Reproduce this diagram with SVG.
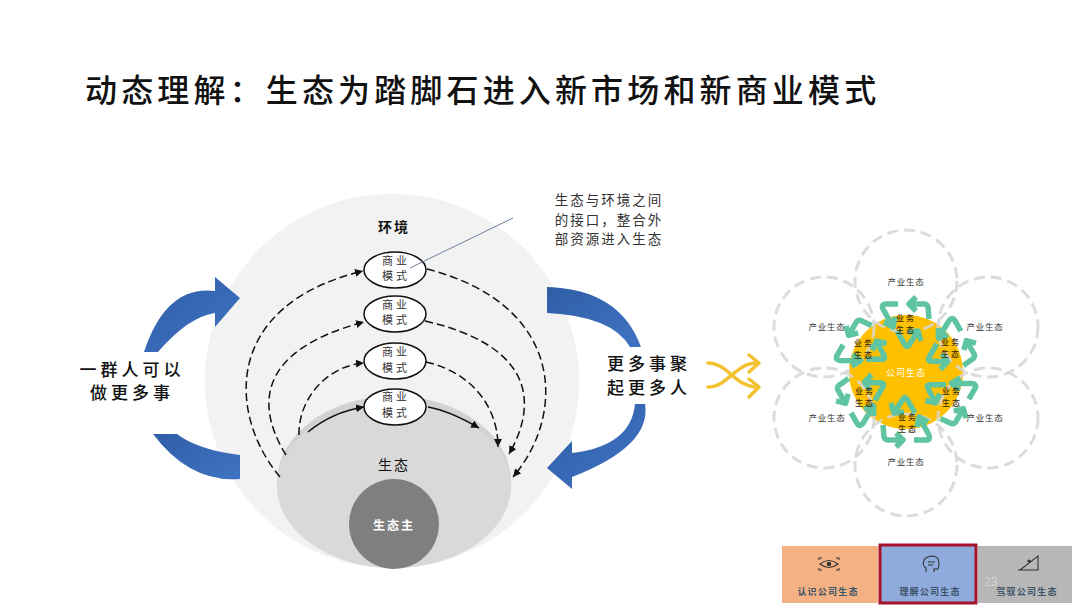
<svg xmlns="http://www.w3.org/2000/svg" width="1080" height="608" viewBox="0 0 1080 608">
<style>
text{font-family:"Noto Sans CJK SC","Liberation Sans",sans-serif;text-anchor:middle;fill:#111}
.title{font-size:32px;font-weight:500;letter-spacing:4.15px;text-anchor:start}
.lab{font-size:17px;font-weight:500;letter-spacing:4px}
.note{font-size:13.5px;letter-spacing:2px;fill:#333}
.ov{fill:#fff;stroke:#111;stroke-width:1.5}
.ovt{font-size:11px;letter-spacing:3px;fill:#333}
.c{fill:none;stroke:#111;stroke-width:1.5;stroke-dasharray:8 4;marker-end:url(#ah)}
.s{stroke-dasharray:none}
.pet{fill:none;stroke:#d6d6d6;stroke-width:3;stroke-dasharray:11 6;opacity:.85}
.ind{font-size:8.5px;letter-spacing:.8px;fill:#333}
.biz{font-size:8px;font-weight:500;letter-spacing:2px;fill:#3a2c08}
.bt{font-size:9px;font-weight:700;letter-spacing:1.2px;fill:#3d5468}
.ic{fill:none;stroke:#333;stroke-width:1.1}
.ye{fill:none;stroke:#f2c230;stroke-width:3.5;stroke-linecap:round;stroke-linejoin:round}
.gr{fill:none;stroke:#5fc4a2;stroke-width:5.5;stroke-linejoin:round}
</style>
<defs>
<marker id="ah" markerUnits="userSpaceOnUse" markerWidth="10" markerHeight="10" refX="8" refY="4" orient="auto"><path d="M0 0L8 4L0 8Z" fill="#111"/></marker>
<linearGradient id="b" x1="0" y1="0" x2="1" y2="1"><stop offset="0" stop-color="#2f5ea6"/><stop offset="1" stop-color="#4073c4"/></linearGradient>
<g id="loop" class="gr">
<path d="M23 -53L22 -65Q21 -68 18 -68L3 -68M10 -75L3 -68L10 -61"/>
<path d="M-8 -68L-20 -68Q-25 -68 -23 -63L-13 -45M-22 -50L-13 -45L-11 -55"/>
<path d="M-9 -41L-1 -27Q1 -24 3 -27L12 -41M2 -40L12 -41L15 -31"/>
</g>
</defs>
<rect width="1080" height="608" fill="#fff"/>
<g id="title"><text class="title" x="85" y="102">动态理解：生态为踏脚石进入新市场和新商业模式</text></g>
<g id="environment"><circle cx="392" cy="381" r="187" fill="#f2f2f2"/><text x="394" y="232" font-size="14" font-weight="700" letter-spacing="2">环境</text></g>
<g id="ecosystem"><ellipse cx="394" cy="482" rx="117" ry="86" fill="#d2d2d2"/><ellipse cx="394" cy="486" rx="117" ry="82" fill="#d9d9d9"/><text x="394" y="470" font-size="14" letter-spacing="2">生态</text></g>
<g id="host"><circle cx="394" cy="524" r="45" fill="#7f7f7f"/><text x="394" y="530" font-size="12" font-weight="700" letter-spacing="2" style="fill:#fff">生态主</text></g>
<g id="connectors">
<path class="c" d="M280 477C228 415 222 305 363 271"/>
<path class="c" d="M427 269C566 305 566 415 513 477"/>
<path class="c" d="M286 455C255 405 258 350 364 322"/>
<path class="c" d="M425 321C530 345 540 400 509 454"/>
<path class="c" d="M299 435C298 400 326 366 364 363"/>
<path class="c" d="M426 362C470 372 498 405 498 447"/>
<path class="c s" d="M308 432C325 418 345 410 364 407"/>
<path class="c s" d="M428 407C445 410 462 418 479 428"/>
</g>
<g id="model1"><ellipse class="ov" cx="395" cy="270" rx="31" ry="18"/><text class="ovt" x="396" y="265">商业</text><text class="ovt" x="396" y="280">模式</text></g>
<g id="model2"><ellipse class="ov" cx="395" cy="314" rx="31" ry="18"/><text class="ovt" x="396" y="309">商业</text><text class="ovt" x="396" y="324">模式</text></g>
<g id="model3"><ellipse class="ov" cx="395" cy="361" rx="31" ry="18"/><text class="ovt" x="396" y="356">商业</text><text class="ovt" x="396" y="372">模式</text></g>
<g id="model4"><ellipse class="ov" cx="395" cy="407" rx="31" ry="18"/><text class="ovt" x="396" y="401">商业</text><text class="ovt" x="396" y="417">模式</text></g>
<g id="note"><path d="M513 218L410 268" stroke="#6f7f9f" stroke-width="1" fill="none"/>
<text class="note" x="609" y="205">生态与环境之间</text><text class="note" x="609" y="225">的接口，整合外</text><text class="note" x="609" y="244">部资源进入生态</text></g>
<g id="arrows" fill="url(#b)">
<path d="M144 352Q166 285 215 291L215 277L240 298L215 327L215 313Q188 317 158 352Z" />
<path d="M153 434Q190 483 240 479L240 455Q198 450 177 434Z" />
<path d="M547 287Q620 289 641 347L630 347Q612 316 547 313Z"/>
<path d="M645 404Q652 446 572 477L572 489L547 468L572 441L572 453Q631 446 635 404Z"/>
</g>
<g id="label-left"><text class="lab" x="132" y="376">一群人可以</text><text class="lab" x="132" y="399">做更多事</text></g>
<g id="label-right"><text class="lab" x="649" y="370">更多事聚</text><text class="lab" x="649" y="394">起更多人</text></g>
<g id="shuffle" class="ye">
<path d="M708 363C728 363 735 387 757 387M708 387C728 387 735 363 757 363"/>
<path d="M749 355L759 363L749 372M749 379L759 387L749 397"/>
</g>
<g id="company-ecosystem">
<circle cx="906" cy="372" r="57" fill="#ffc000"/>
<circle class="pet" cx="906" cy="281" r="51"/>
<circle class="pet" cx="824" cy="327" r="50"/>
<circle class="pet" cx="988" cy="327" r="50"/>
<circle class="pet" cx="824" cy="418" r="50"/>
<circle class="pet" cx="988" cy="418" r="50"/>
<circle class="pet" cx="906" cy="465" r="51"/>
<g transform="translate(906 372)">
<use href="#loop"/><use href="#loop" transform="rotate(60)"/><use href="#loop" transform="rotate(120)"/><use href="#loop" transform="rotate(180)"/><use href="#loop" transform="rotate(240)"/><use href="#loop" transform="rotate(300)"/>
</g>
<text x="906" y="376" font-size="9" letter-spacing="1" style="fill:#fff">公司生态</text>
<text class="ind" x="906" y="285">产业生态</text><text class="ind" x="827" y="330">产业生态</text><text class="ind" x="985" y="330">产业生态</text><text class="ind" x="827" y="421">产业生态</text><text class="ind" x="985" y="421">产业生态</text><text class="ind" x="906" y="465">产业生态</text>
<text class="biz" x="906" y="321">业务</text><text class="biz" x="906" y="333">生态</text>
<text class="biz" x="951" y="345">业务</text><text class="biz" x="951" y="357">生态</text>
<text class="biz" x="952" y="394">业务</text><text class="biz" x="952" y="406">生态</text>
<text class="biz" x="908" y="420">业务</text><text class="biz" x="908" y="432">生态</text>
<text class="biz" x="865" y="394">业务</text><text class="biz" x="865" y="406">生态</text>
<text class="biz" x="864" y="346">业务</text><text class="biz" x="864" y="358">生态</text>
</g>
<g id="tab-recognize"><rect x="782" y="546" width="96" height="57" fill="#f4b183"/>
<path class="ic" d="M820 564Q829 557 838 564Q829 571 820 564ZM819 560V558H822M839 560V558H836M819 568V570H822M839 568V570H836"/><circle cx="829" cy="564" r="2.2" fill="#333"/>
<text class="bt" x="828" y="595">认识公司生态</text></g>
<g id="tab-understand"><rect x="880" y="545" width="96" height="58" fill="#8faadc" stroke="#a6122c" stroke-width="3"/>
<path class="ic" d="M926 572V568Q922 566 924 560Q927 556 933 556Q939 557 939 563Q939 566 938 569H934V572M928 562H935M928 565H933"/>
<text class="bt" x="930" y="595">理解公司生态</text></g>
<g id="tab-master"><rect x="978" y="546" width="94" height="57" fill="#b7b7b7"/>
<path class="ic" d="M1018 570H1038V556L1020 570"/><circle cx="1029" cy="561" r="1.6" fill="#333"/>
<text class="bt" x="1027" y="595">驾驭公司生态</text>
<text x="991" y="586" font-size="12" style="font-family:'Liberation Sans',sans-serif;fill:#d5d5d5">23</text></g>
</svg>
